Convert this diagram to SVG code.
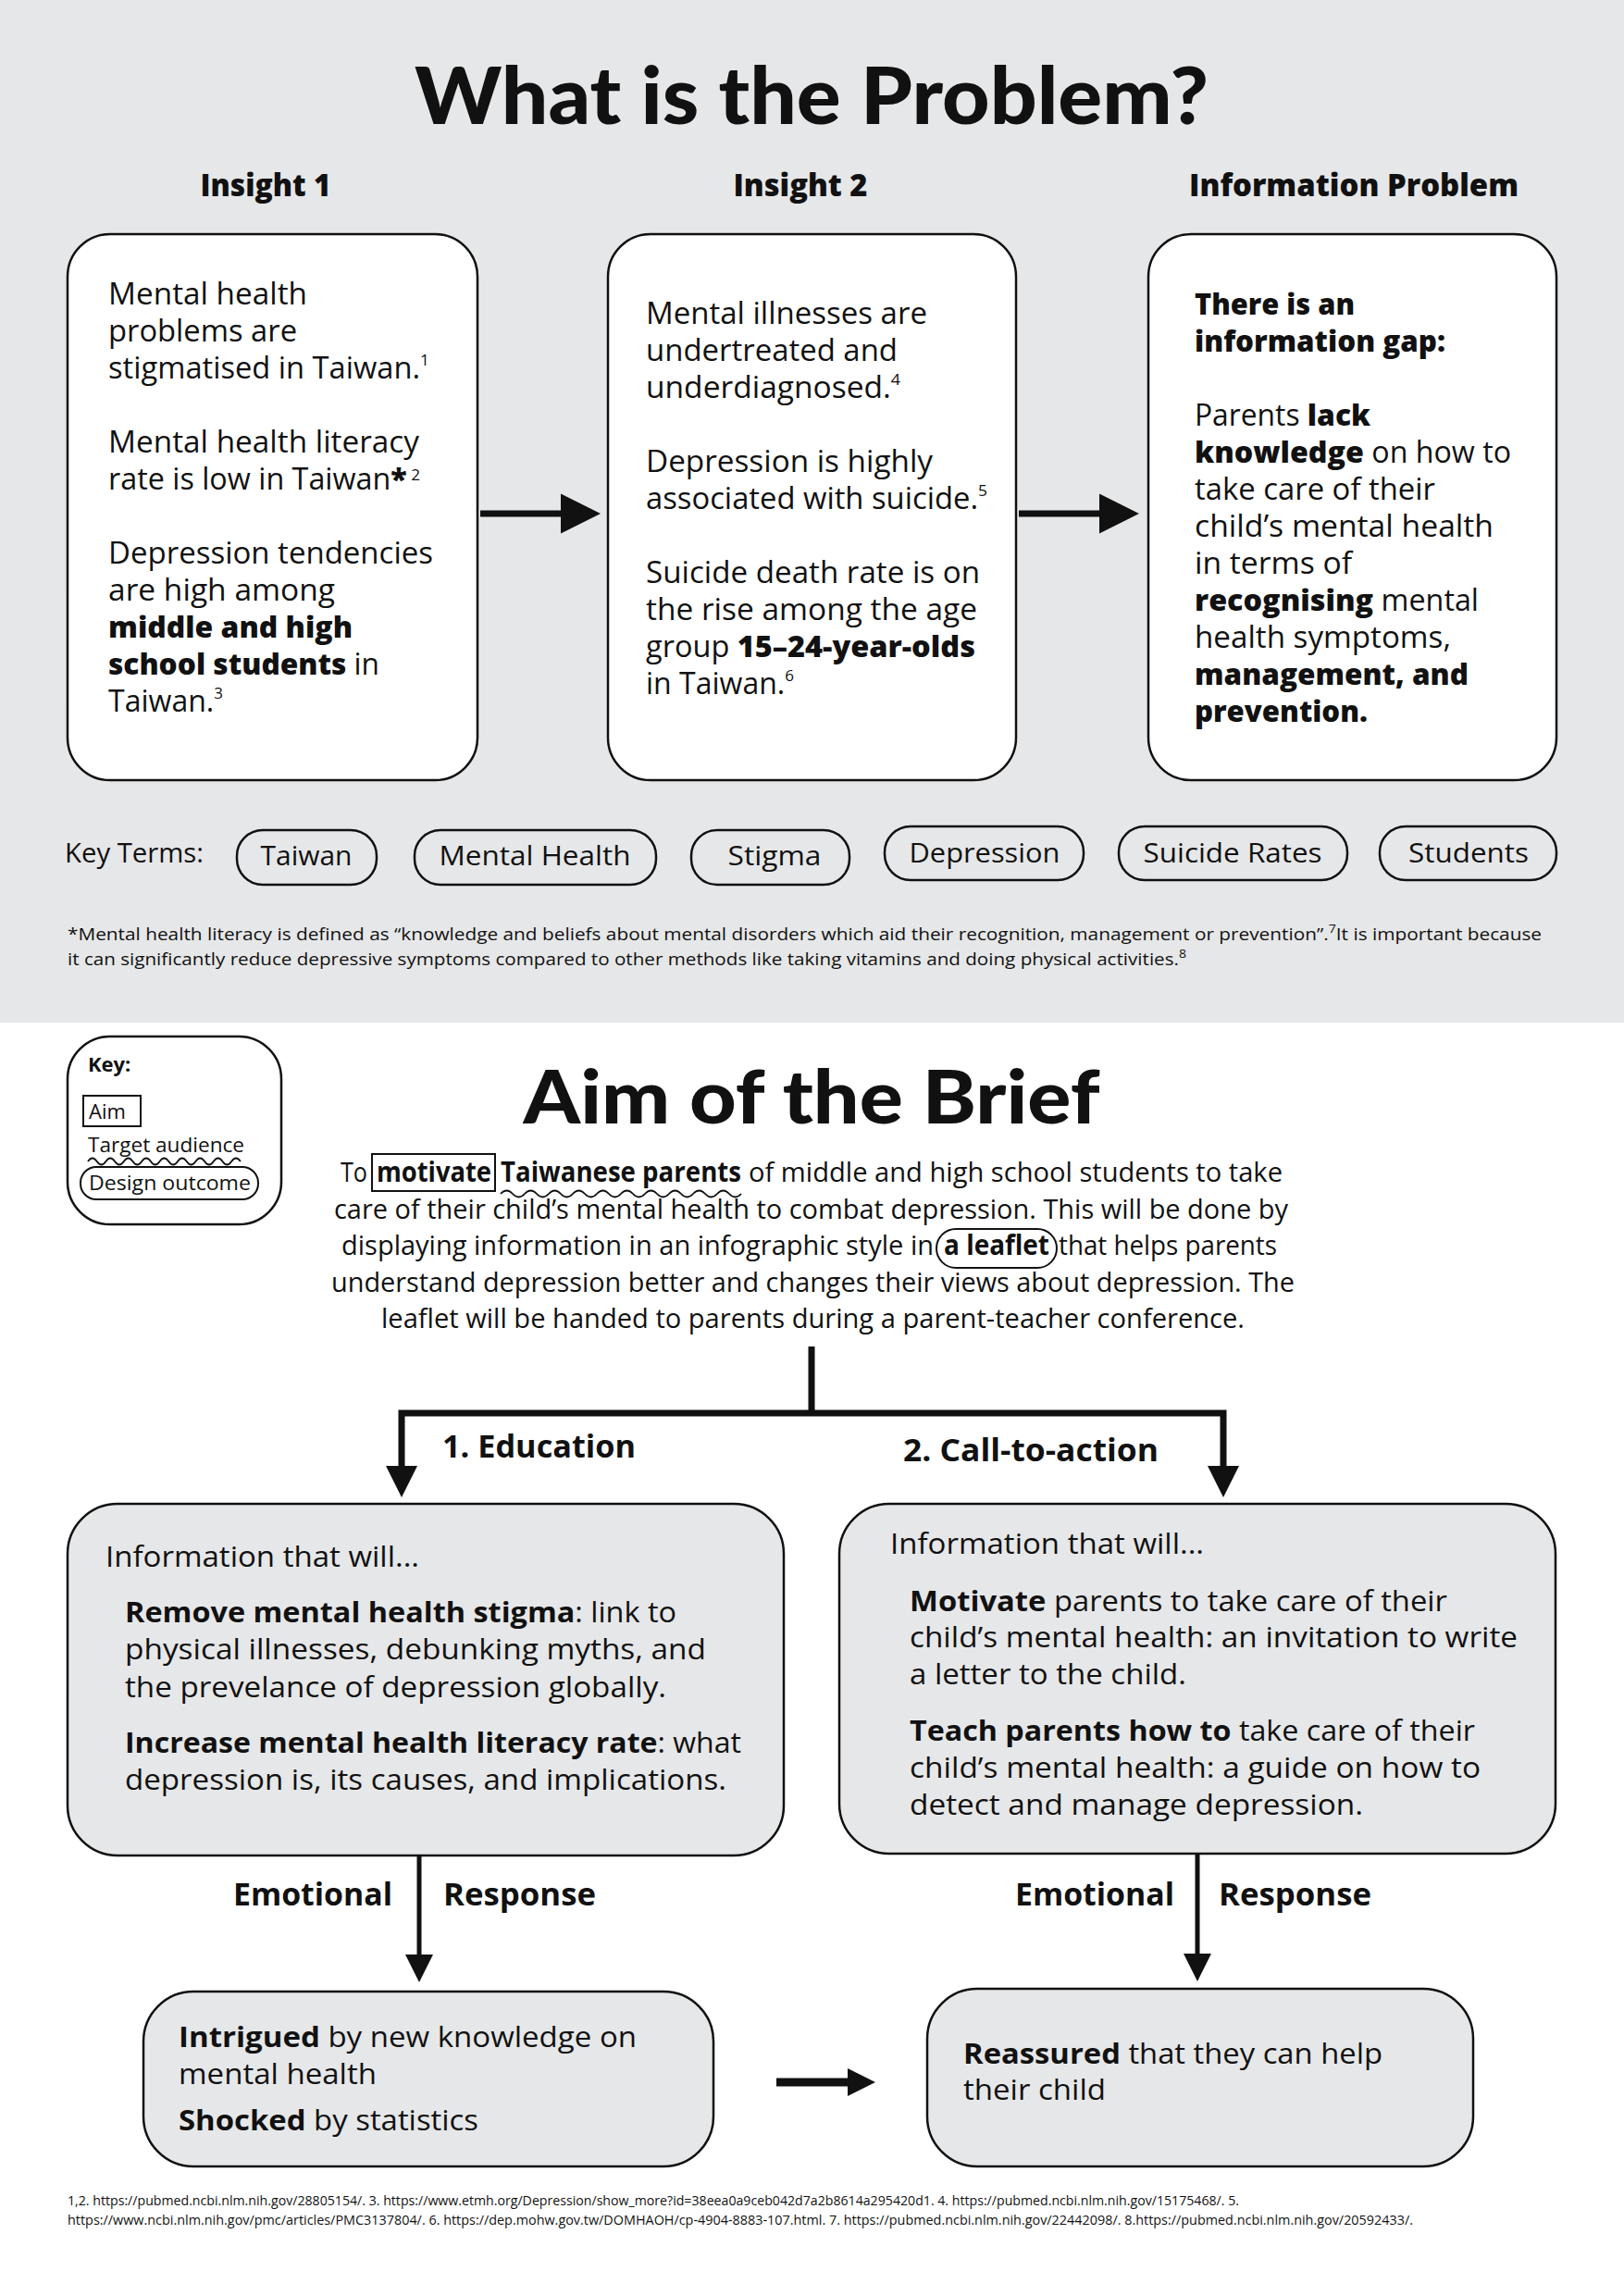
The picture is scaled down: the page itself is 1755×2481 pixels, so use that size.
<svg xmlns="http://www.w3.org/2000/svg" width="1755" height="2481" viewBox="0 0 1755 2481">
<style>
.t{font-family:"Open Sans","Noto Sans",sans-serif;fill:#111}
.b{font-weight:800}
.bb{font-weight:700}
.h{font-family:"Lato","Open Sans",sans-serif;font-weight:900;fill:#111}
.body{font-size:32px}
.bot{font-size:31px}
.box{fill:#fff;stroke:#111;stroke-width:2.5}
.gbox{fill:#e6e7e8;stroke:#111;stroke-width:2.5}
.pill{fill:none;stroke:#111;stroke-width:2.5}
.conn{fill:none;stroke:#111;stroke-linejoin:miter}
.sup{font-size:17px}
</style>
<defs>
<marker id="ahTop" viewBox="0 0 10 10" refX="0" refY="5" markerUnits="userSpaceOnUse" markerWidth="43" markerHeight="46" orient="auto"><path d="M0,0 L10,5 L0,10 z" fill="#111"/></marker>
<marker id="ahBranch" viewBox="0 0 10 10" refX="0" refY="5" markerUnits="userSpaceOnUse" markerWidth="38" markerHeight="34" orient="auto"><path d="M0,0 L10,5 L0,10 z" fill="#111"/></marker>
<marker id="ahEmo" viewBox="0 0 10 10" refX="0" refY="5" markerUnits="userSpaceOnUse" markerWidth="36" markerHeight="30" orient="auto"><path d="M0,0 L10,5 L0,10 z" fill="#111"/></marker>
<marker id="ahMid" viewBox="0 0 10 10" refX="0" refY="5" markerUnits="userSpaceOnUse" markerWidth="30" markerHeight="34" orient="auto"><path d="M0,0 L10,5 L0,10 z" fill="#111"/></marker>
</defs>

<!-- backgrounds -->
<rect x="0" y="0" width="1755" height="1105" fill="#e6e7e8"/>
<rect x="0" y="1105" width="1755" height="1376" fill="#ffffff"/>

<!-- titles -->
<text class="h" x="877" y="134" font-size="86" text-anchor="middle" textLength="858" lengthAdjust="spacingAndGlyphs">What is the Problem?</text>
<text class="t" x="287" y="212" font-size="34" font-weight="800" text-anchor="middle" textLength="141" lengthAdjust="spacingAndGlyphs">Insight 1</text>
<text class="t" x="865" y="212" font-size="34" font-weight="800" text-anchor="middle" textLength="145" lengthAdjust="spacingAndGlyphs">Insight 2</text>
<text class="t" x="1463" y="212" font-size="34" font-weight="800" text-anchor="middle" textLength="356" lengthAdjust="spacingAndGlyphs">Information Problem</text>

<g id="insight1">
<rect class="box" x="73" y="253" width="443" height="590" rx="46"/>
<text class="t body" x="117" y="329" textLength="215" lengthAdjust="spacingAndGlyphs">Mental health</text>
<text class="t body" x="117" y="369" textLength="204" lengthAdjust="spacingAndGlyphs">problems are</text>
<text class="t body" x="117" y="409" textLength="347" lengthAdjust="spacingAndGlyphs">stigmatised in Taiwan.<tspan class="sup" dy="-14">1</tspan></text>
<text class="t body" x="117" y="489" textLength="336" lengthAdjust="spacingAndGlyphs">Mental health literacy</text>
<text class="t body" x="117" y="529" textLength="337" lengthAdjust="spacingAndGlyphs">rate is low in Taiwan<tspan class="b">*</tspan><tspan class="sup" dy="-10"> 2</tspan></text>
<text class="t body" x="117" y="609" textLength="351" lengthAdjust="spacingAndGlyphs">Depression tendencies</text>
<text class="t body" x="117" y="649" textLength="245" lengthAdjust="spacingAndGlyphs">are high among</text>
<text class="t body b" x="117" y="689" textLength="264" lengthAdjust="spacingAndGlyphs">middle and high</text>
<text class="t body" x="117" y="729" textLength="293" lengthAdjust="spacingAndGlyphs"><tspan class="b">school students</tspan> in</text>
<text class="t body" x="117" y="769" textLength="124" lengthAdjust="spacingAndGlyphs">Taiwan.<tspan class="sup" dy="-14">3</tspan></text>
</g>

<g id="insight2">
<rect class="box" x="657" y="253" width="441" height="590" rx="46"/>
<text class="t body" x="698" y="350" textLength="304" lengthAdjust="spacingAndGlyphs">Mental illnesses are</text>
<text class="t body" x="698" y="390" textLength="272" lengthAdjust="spacingAndGlyphs">undertreated and</text>
<text class="t body" x="698" y="430" textLength="275" lengthAdjust="spacingAndGlyphs">underdiagnosed.<tspan class="sup" dy="-14">4</tspan></text>
<text class="t body" x="698" y="510" textLength="310" lengthAdjust="spacingAndGlyphs">Depression is highly</text>
<text class="t body" x="698" y="550" textLength="369" lengthAdjust="spacingAndGlyphs">associated with suicide.<tspan class="sup" dy="-14">5</tspan></text>
<text class="t body" x="698" y="630" textLength="361" lengthAdjust="spacingAndGlyphs">Suicide death rate is on</text>
<text class="t body" x="698" y="670" textLength="358" lengthAdjust="spacingAndGlyphs">the rise among the age</text>
<text class="t body" x="698" y="710" textLength="356" lengthAdjust="spacingAndGlyphs">group <tspan class="b">15–24-year-olds</tspan></text>
<text class="t body" x="698" y="750" textLength="160" lengthAdjust="spacingAndGlyphs">in Taiwan.<tspan class="sup" dy="-14">6</tspan></text>
</g>

<g id="information-problem">
<rect class="box" x="1241" y="253" width="441" height="590" rx="46"/>
<text class="t body b" x="1291" y="340" textLength="173" lengthAdjust="spacingAndGlyphs">There is an</text>
<text class="t body b" x="1291" y="380" textLength="271" lengthAdjust="spacingAndGlyphs">information gap:</text>
<text class="t body" x="1291" y="460" textLength="190" lengthAdjust="spacingAndGlyphs">Parents <tspan class="b">lack</tspan></text>
<text class="t body" x="1291" y="500" textLength="342" lengthAdjust="spacingAndGlyphs"><tspan class="b">knowledge</tspan> on how to</text>
<text class="t body" x="1291" y="540" textLength="260" lengthAdjust="spacingAndGlyphs">take care of their</text>
<text class="t body" x="1291" y="580" textLength="323" lengthAdjust="spacingAndGlyphs">child’s mental health</text>
<text class="t body" x="1291" y="620" textLength="170" lengthAdjust="spacingAndGlyphs">in terms of</text>
<text class="t body" x="1291" y="660" textLength="307" lengthAdjust="spacingAndGlyphs"><tspan class="b">recognising</tspan> mental</text>
<text class="t body" x="1291" y="700" textLength="277" lengthAdjust="spacingAndGlyphs">health symptoms,</text>
<text class="t body b" x="1291" y="740" textLength="296" lengthAdjust="spacingAndGlyphs">management, and</text>
<text class="t body b" x="1291" y="780" textLength="187" lengthAdjust="spacingAndGlyphs">prevention.</text>
</g>

<g id="key-terms">
<text class="t" x="70" y="932" font-size="29" textLength="150" lengthAdjust="spacingAndGlyphs">Key Terms:</text>
<rect class="pill" x="256" y="897" width="151" height="59" rx="28"/>
<text class="t" x="331" y="935" font-size="29" text-anchor="middle" textLength="99" lengthAdjust="spacingAndGlyphs">Taiwan</text>
<rect class="pill" x="448" y="897" width="261" height="59" rx="28"/>
<text class="t" x="578" y="935" font-size="29" text-anchor="middle" textLength="207" lengthAdjust="spacingAndGlyphs">Mental Health</text>
<rect class="pill" x="747" y="897" width="171" height="59" rx="28"/>
<text class="t" x="837" y="935" font-size="29" text-anchor="middle" textLength="101" lengthAdjust="spacingAndGlyphs">Stigma</text>
<rect class="pill" x="956" y="893" width="215" height="58" rx="28"/>
<text class="t" x="1064" y="932" font-size="29" text-anchor="middle" textLength="163" lengthAdjust="spacingAndGlyphs">Depression</text>
<rect class="pill" x="1209" y="893" width="247" height="58" rx="28"/>
<text class="t" x="1332" y="932" font-size="29" text-anchor="middle" textLength="193" lengthAdjust="spacingAndGlyphs">Suicide Rates</text>
<rect class="pill" x="1491" y="893" width="191" height="58" rx="28"/>
<text class="t" x="1587" y="932" font-size="29" text-anchor="middle" textLength="130" lengthAdjust="spacingAndGlyphs">Students</text>
</g>

<g id="footnote">
<text class="t" x="73" y="1016" font-size="19" textLength="1593" lengthAdjust="spacingAndGlyphs">*Mental health literacy is defined as “knowledge and beliefs about mental disorders which aid their recognition, management or prevention”.<tspan font-size="13" dy="-8">7</tspan><tspan dy="8">It is important because</tspan></text>
<text class="t" x="73" y="1043" font-size="19" textLength="1209" lengthAdjust="spacingAndGlyphs">it can significantly reduce depressive symptoms compared to other methods like taking vitamins and doing physical activities.<tspan font-size="13" dy="-8">8</tspan></text>
</g>

<g id="key">
<rect class="pill" x="73" y="1120" width="231" height="203" rx="46"/>
<text class="t bb" x="95" y="1158" font-size="22">Key:</text>
<rect x="90" y="1184" width="62" height="33" fill="none" stroke="#111" stroke-width="2"/>
<text class="t" x="96" y="1209" font-size="22">Aim</text>
<text class="t" x="95" y="1245" font-size="22" textLength="169" lengthAdjust="spacingAndGlyphs">Target audience</text>
<path d="M95,1255 q4.85,-7 9.7,0 t9.7,0 t9.7,0 t9.7,0 t9.7,0 t9.7,0 t9.7,0 t9.7,0 t9.7,0 t9.7,0 t9.7,0 t9.7,0 t9.7,0 t9.7,0 t9.7,0 t9.7,0 t9.7,0" fill="none" stroke="#111" stroke-width="1.8"/>
<rect x="87" y="1261" width="192" height="35" rx="17" fill="none" stroke="#111" stroke-width="2"/>
<text class="t" x="96" y="1286" font-size="22" textLength="175" lengthAdjust="spacingAndGlyphs">Design outcome</text>
</g>

<g id="aim">
<text class="h" x="877" y="1214" font-size="80" text-anchor="middle" textLength="623" lengthAdjust="spacingAndGlyphs">Aim of the Brief</text>
<text class="t" x="368" y="1277" font-size="30" textLength="29" lengthAdjust="spacingAndGlyphs">To</text>
<rect x="402" y="1247" width="133" height="40" fill="none" stroke="#111" stroke-width="2"/>
<text class="t bb" x="407" y="1277" font-size="30" textLength="124" lengthAdjust="spacingAndGlyphs">motivate</text>
<text class="t bb" x="541" y="1277" font-size="30" textLength="260" lengthAdjust="spacingAndGlyphs">Taiwanese parents</text>
<path d="M541,1290 q6.5,-7 13,0 t13,0 t13,0 t13,0 t13,0 t13,0 t13,0 t13,0 t13,0 t13,0 t13,0 t13,0 t13,0 t13,0 t13,0 t13,0 t13,0 t13,0 t13,0 t13,0" fill="none" stroke="#111" stroke-width="1.8"/>
<text class="t" x="809" y="1277" font-size="30" textLength="577" lengthAdjust="spacingAndGlyphs">of middle and high school students to take</text>
<text class="t" x="361" y="1317" font-size="30" textLength="1031" lengthAdjust="spacingAndGlyphs">care of their child’s mental health to combat depression. This will be done by</text>
<text class="t" x="369" y="1356" font-size="30" textLength="640" lengthAdjust="spacingAndGlyphs">displaying information in an infographic style in</text>
<rect x="1012" y="1328" width="130" height="42" rx="21" fill="none" stroke="#111" stroke-width="2"/>
<text class="t bb" x="1020" y="1356" font-size="30" textLength="114" lengthAdjust="spacingAndGlyphs">a leaflet</text>
<text class="t" x="1144" y="1356" font-size="30" textLength="236" lengthAdjust="spacingAndGlyphs">that helps parents</text>
<text class="t" x="358" y="1396" font-size="30" textLength="1041" lengthAdjust="spacingAndGlyphs">understand depression better and changes their views about depression. The</text>
<text class="t" x="412" y="1435" font-size="30" textLength="933" lengthAdjust="spacingAndGlyphs">leaflet will be handed to parents during a parent-teacher conference.</text>
</g>

<g id="connectors">
<path class="conn" d="M519,555 H606" stroke-width="7" marker-end="url(#ahTop)"/>
<path class="conn" d="M1101,555 H1188" stroke-width="7" marker-end="url(#ahTop)"/>
<path class="conn" d="M877,1455 V1527" stroke-width="7"/>
<path class="conn" d="M877,1527 H434 V1584" stroke-width="7" marker-end="url(#ahBranch)"/>
<path class="conn" d="M877,1527 H1322 V1584" stroke-width="7" marker-end="url(#ahBranch)"/>
<path class="conn" d="M453,2005 V2112" stroke-width="5" marker-end="url(#ahEmo)"/>
<path class="conn" d="M1294,2003 V2111" stroke-width="5" marker-end="url(#ahEmo)"/>
<path class="conn" d="M839,2250 H916" stroke-width="9" marker-end="url(#ahMid)"/>
</g>

<g id="branch-labels">
<text class="t bb" x="478" y="1575" font-size="34" textLength="209" lengthAdjust="spacingAndGlyphs">1.  Education</text>
<text class="t bb" x="976" y="1579" font-size="34" textLength="276" lengthAdjust="spacingAndGlyphs">2. Call-to-action</text>
<text class="t bb" x="424" y="2059" font-size="34" text-anchor="end" textLength="172" lengthAdjust="spacingAndGlyphs">Emotional</text>
<text class="t bb" x="479" y="2059" font-size="34" textLength="165" lengthAdjust="spacingAndGlyphs">Response</text>
<text class="t bb" x="1269" y="2059" font-size="34" text-anchor="end" textLength="172" lengthAdjust="spacingAndGlyphs">Emotional</text>
<text class="t bb" x="1317" y="2059" font-size="34" textLength="165" lengthAdjust="spacingAndGlyphs">Response</text>
</g>

<g id="education">
<rect class="gbox" x="73" y="1625" width="774" height="380" rx="54"/>
<text class="t bot" x="114" y="1693" textLength="339" lengthAdjust="spacingAndGlyphs">Information that will...</text>
<text class="t bot" x="135" y="1753" textLength="596" lengthAdjust="spacingAndGlyphs"><tspan class="bb">Remove mental health stigma</tspan>: link to</text>
<text class="t bot" x="135" y="1793" textLength="628" lengthAdjust="spacingAndGlyphs">physical illnesses, debunking myths, and</text>
<text class="t bot" x="135" y="1834" textLength="585" lengthAdjust="spacingAndGlyphs">the prevelance of depression globally.</text>
<text class="t bot" x="135" y="1894" textLength="666" lengthAdjust="spacingAndGlyphs"><tspan class="bb">Increase mental health literacy rate</tspan>: what</text>
<text class="t bot" x="135" y="1934" textLength="650" lengthAdjust="spacingAndGlyphs">depression is, its causes, and implications.</text>
</g>

<g id="call-to-action">
<rect class="gbox" x="907" y="1625" width="774" height="378" rx="54"/>
<text class="t bot" x="962" y="1679" textLength="339" lengthAdjust="spacingAndGlyphs">Information that will...</text>
<text class="t bot" x="983" y="1741" textLength="581" lengthAdjust="spacingAndGlyphs"><tspan class="bb">Motivate</tspan> parents to take care of their</text>
<text class="t bot" x="983" y="1780" textLength="657" lengthAdjust="spacingAndGlyphs">child’s mental health: an invitation to write</text>
<text class="t bot" x="983" y="1820" textLength="299" lengthAdjust="spacingAndGlyphs">a letter to the child.</text>
<text class="t bot" x="983" y="1881" textLength="611" lengthAdjust="spacingAndGlyphs"><tspan class="bb">Teach parents how to</tspan> take care of their</text>
<text class="t bot" x="983" y="1921" textLength="617" lengthAdjust="spacingAndGlyphs">child’s mental health: a guide on how to</text>
<text class="t bot" x="983" y="1961" textLength="490" lengthAdjust="spacingAndGlyphs">detect and manage depression.</text>
</g>

<g id="response-education">
<rect class="gbox" x="155" y="2152" width="616" height="189" rx="54"/>
<text class="t bot" x="193" y="2212" textLength="495" lengthAdjust="spacingAndGlyphs"><tspan class="bb">Intrigued</tspan> by new knowledge on</text>
<text class="t bot" x="193" y="2252" textLength="214" lengthAdjust="spacingAndGlyphs">mental health</text>
<text class="t bot" x="193" y="2302" textLength="324" lengthAdjust="spacingAndGlyphs"><tspan class="bb">Shocked</tspan> by statistics</text>
</g>

<g id="response-action">
<rect class="gbox" x="1002" y="2149" width="590" height="192" rx="54"/>
<text class="t bot" x="1041" y="2230" textLength="453" lengthAdjust="spacingAndGlyphs"><tspan class="bb">Reassured</tspan> that they can help</text>
<text class="t bot" x="1041" y="2269" textLength="154" lengthAdjust="spacingAndGlyphs">their child</text>
</g>

<g id="references">
<text class="t" x="73" y="2383" font-size="14" textLength="1266" lengthAdjust="spacingAndGlyphs">1,2. https://pubmed.ncbi.nlm.nih.gov/28805154/. 3. https://www.etmh.org/Depression/show_more?id=38eea0a9ceb042d7a2b8614a295420d1. 4. https://pubmed.ncbi.nlm.nih.gov/15175468/. 5.</text>
<text class="t" x="73" y="2404" font-size="14" textLength="1454" lengthAdjust="spacingAndGlyphs">https://www.ncbi.nlm.nih.gov/pmc/articles/PMC3137804/. 6. https://dep.mohw.gov.tw/DOMHAOH/cp-4904-8883-107.html. 7. https://pubmed.ncbi.nlm.nih.gov/22442098/. 8.https://pubmed.ncbi.nlm.nih.gov/20592433/.</text>
</g>
</svg>
